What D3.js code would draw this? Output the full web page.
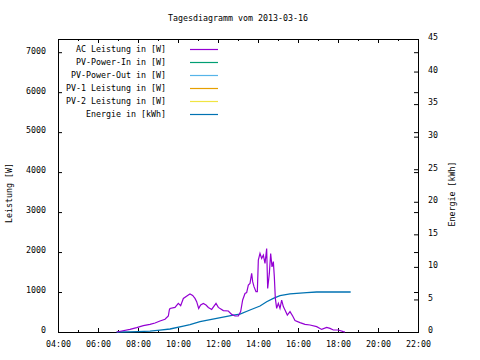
<!DOCTYPE html>
<html><head><meta charset="utf-8">
<script src="https://cdn.jsdelivr.net/npm/d3@7"></script>
<style>
html,body{margin:0;padding:0;background:#fff;}
text{font-family:"DejaVu Sans Mono",monospace;font-size:8.3px;fill:#000;}
</style></head>
<body>
<script>
const title = "Tagesdiagramm vom 2013-03-16";
const seriesNames = ["AC Leistung in [W]","PV-Power-In in [W]","PV-Power-Out in [W]","PV-1 Leistung in [W]","PV-2 Leistung in [W]","Energie in [kWh]"];
const seriesColors = ["#9400d3","#009e73","#56b4e9","#e69f00","#f0e442","#0072b2"];
const yTicks = [0,1000,2000,3000,4000,5000,6000,7000];
const y2Ticks = [0,5,10,15,20,25,30,35,40,45];
const xTickHours = [4,6,8,10,12,14,16,18,20,22];

const acTimes = ["06:56","07:11","07:36","07:56","08:16","08:36","08:51","09:06","09:21","09:31","09:34","09:36","09:51","10:01","10:08","10:16","10:31","10:36","10:44","10:51","10:56","11:02","11:08","11:16","11:24","11:31","11:41","11:54","12:01","12:16","12:31","12:41","12:51","13:01","13:08","13:14","13:21","13:26","13:31","13:36","13:41","13:44","13:48","13:54","13:58","14:01","14:06","14:11","14:16","14:21","14:26","14:29","14:34","14:38","14:42","14:46","14:49","14:52","14:56","15:01","15:06","15:11","15:16","15:21","15:28","15:36","15:44","15:51","16:06","16:21","16:36","16:56","17:11","17:26","17:36","17:46","18:01","18:16","18:21"];
const acPower = [0,25,65,110,160,190,225,275,320,400,550,590,615,715,660,840,925,950,915,840,760,590,675,715,675,615,565,715,615,535,525,440,400,400,510,800,965,985,1175,1215,1465,1260,1135,1010,1010,1800,1965,1840,1925,1715,2090,1090,1465,1965,1630,1760,1380,840,590,715,590,800,635,550,425,510,400,285,235,190,175,135,65,115,90,50,50,10,0];

const energyTimes = ["06:56","07:30","08:00","08:36","09:06","09:36","10:16","10:36","11:06","11:56","12:46","13:06","13:36","14:06","14:26","14:46","15:06","15:36","15:56","16:26","16:56","18:38"];
const energyKWh = [0,0.03,0.06,0.12,0.3,0.46,0.92,1.15,1.58,2.1,2.6,2.76,3.38,3.99,4.65,5.17,5.58,5.84,5.94,6.04,6.14,6.14];

const W = 480, H = 360;
const toH = s => { const [h,m] = s.split(":").map(Number); return h + m/60; };
const svg = d3.select("body").append("svg").attr("width",W).attr("height",H);

const x = d3.scaleLinear().domain([4,22]).range([58,418]);
const y = d3.scaleLinear().domain([0,7330]).range([332,39]);
const y2 = d3.scaleLinear().domain([0,45]).range([332,39]);

// frame
svg.append("rect").attr("x",58.5).attr("y",39.5).attr("width",360).attr("height",293)
  .attr("fill","none").attr("stroke","#000").attr("stroke-width",1);

function styleAxis(g){ g.select(".domain").remove(); g.selectAll("line").attr("stroke","#000"); g.selectAll("text").attr("font-family",null).attr("font-size",null); }

const hours = d3.range(4,23);
const minorHours = hours.filter(h => h%2===1);
// bottom major
svg.append("g").attr("transform","translate(0,332)")
  .call(d3.axisBottom(x).tickValues(xTickHours).tickSize(-4).tickSizeOuter(0).tickPadding(9)
    .tickFormat(h => String(h).padStart(2,"0")+":00")).call(styleAxis);
svg.append("g").attr("transform","translate(0,332)")
  .call(d3.axisBottom(x).tickValues(minorHours).tickSize(-2).tickSizeOuter(0).tickFormat("")).call(styleAxis);
// top mirror
svg.append("g").attr("transform","translate(0,39)")
  .call(d3.axisTop(x).tickValues(xTickHours).tickSize(-4).tickSizeOuter(0).tickFormat("")).call(styleAxis);
svg.append("g").attr("transform","translate(0,39)")
  .call(d3.axisTop(x).tickValues(minorHours).tickSize(-2).tickSizeOuter(0).tickFormat("")).call(styleAxis);
// left
const gl = svg.append("g").attr("transform","translate(58,0)")
  .call(d3.axisLeft(y).tickValues(yTicks).tickSize(-4).tickSizeOuter(0).tickPadding(12).tickFormat(d3.format("d"))).call(styleAxis);
gl.selectAll("text").attr("dy","0.1em");
// right mirror of y
svg.append("g").attr("transform","translate(418,0)")
  .call(d3.axisRight(y).tickValues(yTicks).tickSize(-4).tickSizeOuter(0).tickFormat("")).call(styleAxis);
// right y2
const gr = svg.append("g").attr("transform","translate(418,0)")
  .call(d3.axisRight(y2).tickValues(y2Ticks).tickSize(-4).tickSizeOuter(0).tickPadding(10).tickFormat(d3.format("d"))).call(styleAxis);
gr.selectAll("text").attr("dy","0.1em");

// lines
const acData = acTimes.map((t,i)=>({h:toH(t), v:acPower[i]}));
const enData = energyTimes.map((t,i)=>({h:toH(t), v:energyKWh[i]}));
svg.append("path").datum(enData).attr("fill","none").attr("stroke",seriesColors[5]).attr("stroke-width",1.3)
  .attr("d", d3.line().x(d=>x(d.h)).y(d=>y2(d.v)));
svg.append("path").datum(acData).attr("fill","none").attr("stroke",seriesColors[0]).attr("stroke-width",1.2)
  .attr("d", d3.line().x(d=>x(d.h)).y(d=>y(d.v)));

// title
svg.append("text").attr("x",238).attr("y",20.5).attr("text-anchor","middle").text(title);
// axis titles
svg.append("text").attr("transform","translate(12,193) rotate(-90)").attr("text-anchor","middle").text("Leistung [W]");
svg.append("text").attr("transform","translate(455,194) rotate(-90)").attr("text-anchor","middle").text("Energie [kWh]");

// legend
const lg = svg.append("g");
seriesNames.forEach((n,i)=>{
  const ly = 49.5 + i*13;
  lg.append("text").attr("x",166).attr("y",ly+2).attr("text-anchor","end").text(n);
  lg.append("line").attr("x1",190).attr("x2",218).attr("y1",ly).attr("y2",ly)
    .attr("stroke",seriesColors[i]).attr("stroke-width",1.2);
});
</script>
</body></html>
